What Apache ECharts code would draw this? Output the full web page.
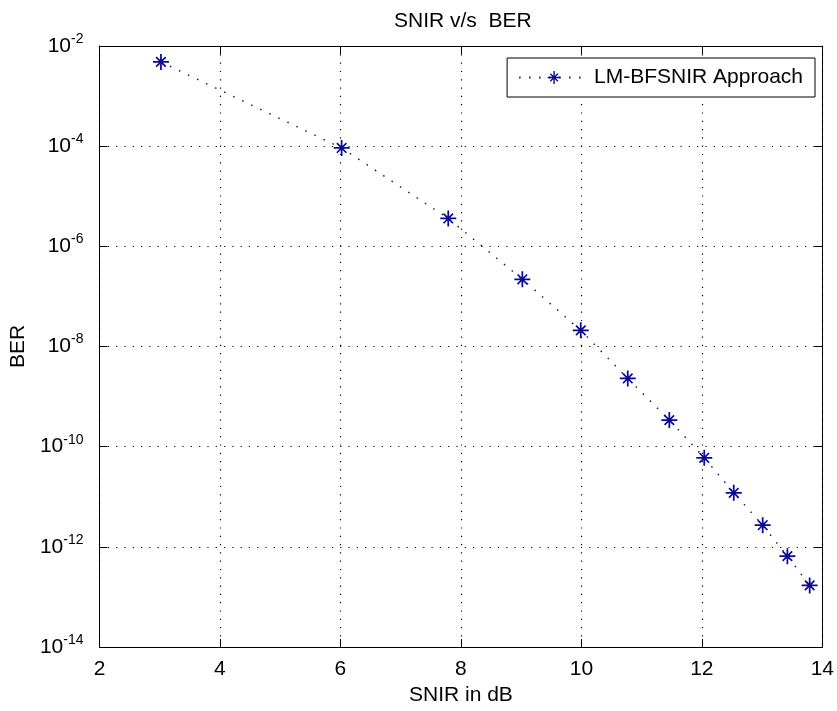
<!DOCTYPE html>
<html>
<head>
<meta charset="utf-8">
<script src="https://cdn.jsdelivr.net/npm/echarts@6/dist/echarts.min.js"></script>
<style>
  body { margin: 0; background: #fff; }
  #chart { width: 837px; height: 711px; }
</style>
</head>
<body>
<div id="chart"></div>
<script>
// SNIR (dB) vs BER
const snir = [3.02, 6.02, 7.79, 9.02, 9.99, 10.77, 11.46, 12.04, 12.53, 13.01, 13.42, 13.79];
const ber = [4.8e-3, 9.2e-5, 3.6e-6, 2.2e-7, 2.1e-8, 2.3e-9, 3.4e-10, 6e-11, 1.2e-11, 2.7e-12, 6.5e-13, 1.7e-13];
const seriesName = "LM-BFSNIR Approach";

const font = "Liberation Sans, Arial, sans-serif";
// asterisk marker, like matlab's '*'
const star = "path://M8.9 0H11.1V20H8.9Z M0 8.9H20V11.1H0Z M3.3 4.8L4.8 3.3L16.7 15.2L15.2 16.7Z M15.2 3.3L16.7 4.8L4.8 16.7L3.3 15.2Z M7.5 7.5H12.5V12.5H7.5Z";

const chart = echarts.init(document.getElementById("chart"));

const gridDots = { color: "#000", width: 1.2, type: [1.2, 7.1] };
const tickIn = { show: true, inside: true, length: 8, lineStyle: { color: "#000" } };

chart.setOption({
  backgroundColor: "#fff",
  animation: false,
  title: {
    text: "SNIR v/s  BER",
    left: 389,
    top: 6,
    textStyle: { fontFamily: font, fontSize: 21, fontWeight: "normal", color: "#000" }
  },
  legend: {
    right: 22,
    top: 58,
    padding: [9, 12, 9, 11],
    borderColor: "#000",
    borderWidth: 1,
    backgroundColor: "#fff",
    itemWidth: 70,
    itemHeight: 16,
    textStyle: { fontFamily: font, fontSize: 21, color: "#000" },
    data: [seriesName]
  },
  grid: { left: 98, right: 11, top: 46, bottom: 62 },
  xAxis: [
    {
      type: "value",
      min: 2, max: 14, interval: 2,
      name: "SNIR in dB",
      nameLocation: "middle",
      nameGap: 38,
      nameTextStyle: { fontFamily: font, fontSize: 21, color: "#000" },
      axisLine: { lineStyle: { color: "#000", width: 1 } },
      axisTick: tickIn,
      axisLabel: { fontFamily: font, fontSize: 21, color: "#000", margin: 12 },
      splitLine: { show: true, lineStyle: gridDots }
    },
    {
      type: "value",
      position: "top",
      min: 2, max: 14, interval: 2,
      axisLine: { show: true, lineStyle: { color: "#000", width: 1 } },
      axisTick: tickIn,
      axisLabel: { show: false },
      splitLine: { show: false }
    }
  ],
  yAxis: [
    {
      type: "log",
      logBase: 10,
      min: 1e-14, max: 1e-2, interval: 2,
      name: "BER",
      nameLocation: "middle",
      nameGap: 68,
      nameTextStyle: { fontFamily: font, fontSize: 21, color: "#000" },
      axisLine: { show: true, lineStyle: { color: "#000", width: 1 } },
      axisTick: tickIn,
      minorTick: { show: false },
      axisLabel: {
        margin: 16,
        formatter: v => "{b|10}{e|" + Math.round(Math.log10(v)) + "}",
        rich: {
          b: { fontFamily: font, fontSize: 21, color: "#000" },
          e: { fontFamily: font, fontSize: 14, color: "#000", padding: [0, 0, 14, 0] }
        }
      },
      splitLine: { show: true, lineStyle: gridDots }
    },
    {
      type: "log",
      logBase: 10,
      position: "right",
      min: 1e-14, max: 1e-2, interval: 2,
      axisLine: { show: true, lineStyle: { color: "#000", width: 1 } },
      axisTick: tickIn,
      axisLabel: { show: false },
      splitLine: { show: false }
    }
  ],
  series: [
    {
      name: seriesName,
      type: "line",
      xAxisIndex: 0,
      yAxisIndex: 0,
      data: snir.map((x, i) => [x, ber[i]]),
      symbol: star,
      symbolSize: 16,
      showAllSymbol: true,
      itemStyle: { color: "#0a0a96" },
      lineStyle: { color: "#1e1e50", width: 1.5, type: [1.5, 8.5] }
    }
  ]
});
</script>
</body>
</html>
